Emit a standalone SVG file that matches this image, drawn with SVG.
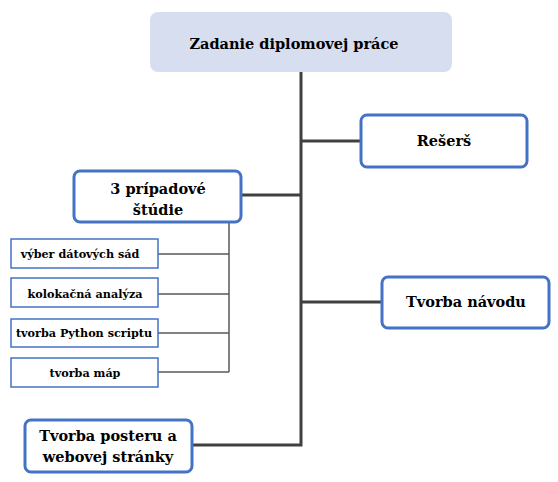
<svg xmlns="http://www.w3.org/2000/svg" width="558" height="482" viewBox="0 0 558 482">
<style>
text{font-family:"DejaVu Serif","Liberation Serif",serif;font-weight:bold;fill:#000;text-anchor:middle}
.big{font-size:14.5px}
.small{font-size:11.2px}
.node{fill:#fff;stroke:#4472c4;stroke-width:3}
.sub{fill:#fff;stroke:#4472c4;stroke-width:1.5}
.main{stroke:#404040;stroke-width:3;fill:none}
.thin{stroke:#595959;stroke-width:1.5;fill:none}
</style>
<rect width="558" height="482" fill="#fff"/>
<g id="connectors">
<path class="main" d="M301 72V445H192M301 141H361M301 302H382M241 195H301"/>
<path class="thin" d="M229 222V372M158 254H229M158 294H229M158 333H229M158 372H229"/>
</g>
<g id="zadanie"><rect x="150" y="12" width="302" height="60" rx="8" fill="#d6deef"/><text class="big" x="294" y="49">Zadanie diplomovej práce</text></g>
<g id="reserš"><rect class="node" x="361" y="115" width="166" height="52" rx="6"/><text class="big" x="444" y="146">Rešerš</text></g>
<g id="navod"><rect class="node" x="382" y="277" width="167" height="51" rx="6"/><text class="big" x="466" y="307">Tvorba návodu</text></g>
<g id="studie"><rect class="node" x="74" y="171" width="167" height="51" rx="6"/><text class="big" x="158" y="194">3 prípadové</text><text class="big" x="158" y="215">štúdie</text></g>
<g id="vyber"><rect class="sub" x="11" y="239" width="147" height="29"/><text class="small" x="80" y="258">výber dátových sád</text></g>
<g id="kolokacna"><rect class="sub" x="11" y="278" width="147" height="29"/><text class="small" x="85" y="298">kolokačná analýza</text></g>
<g id="python"><rect class="sub" x="11" y="319" width="147" height="28"/><text class="small" x="84" y="337">tvorba Python scriptu</text></g>
<g id="mapy"><rect class="sub" x="11" y="358" width="147" height="29"/><text class="small" x="85" y="377">tvorba máp</text></g>
<g id="poster"><rect class="node" x="25" y="420" width="167" height="52" rx="6"/><text class="big" x="108" y="441">Tvorba posteru a</text><text class="big" x="108" y="462">webovej stránky</text></g>
</svg>
